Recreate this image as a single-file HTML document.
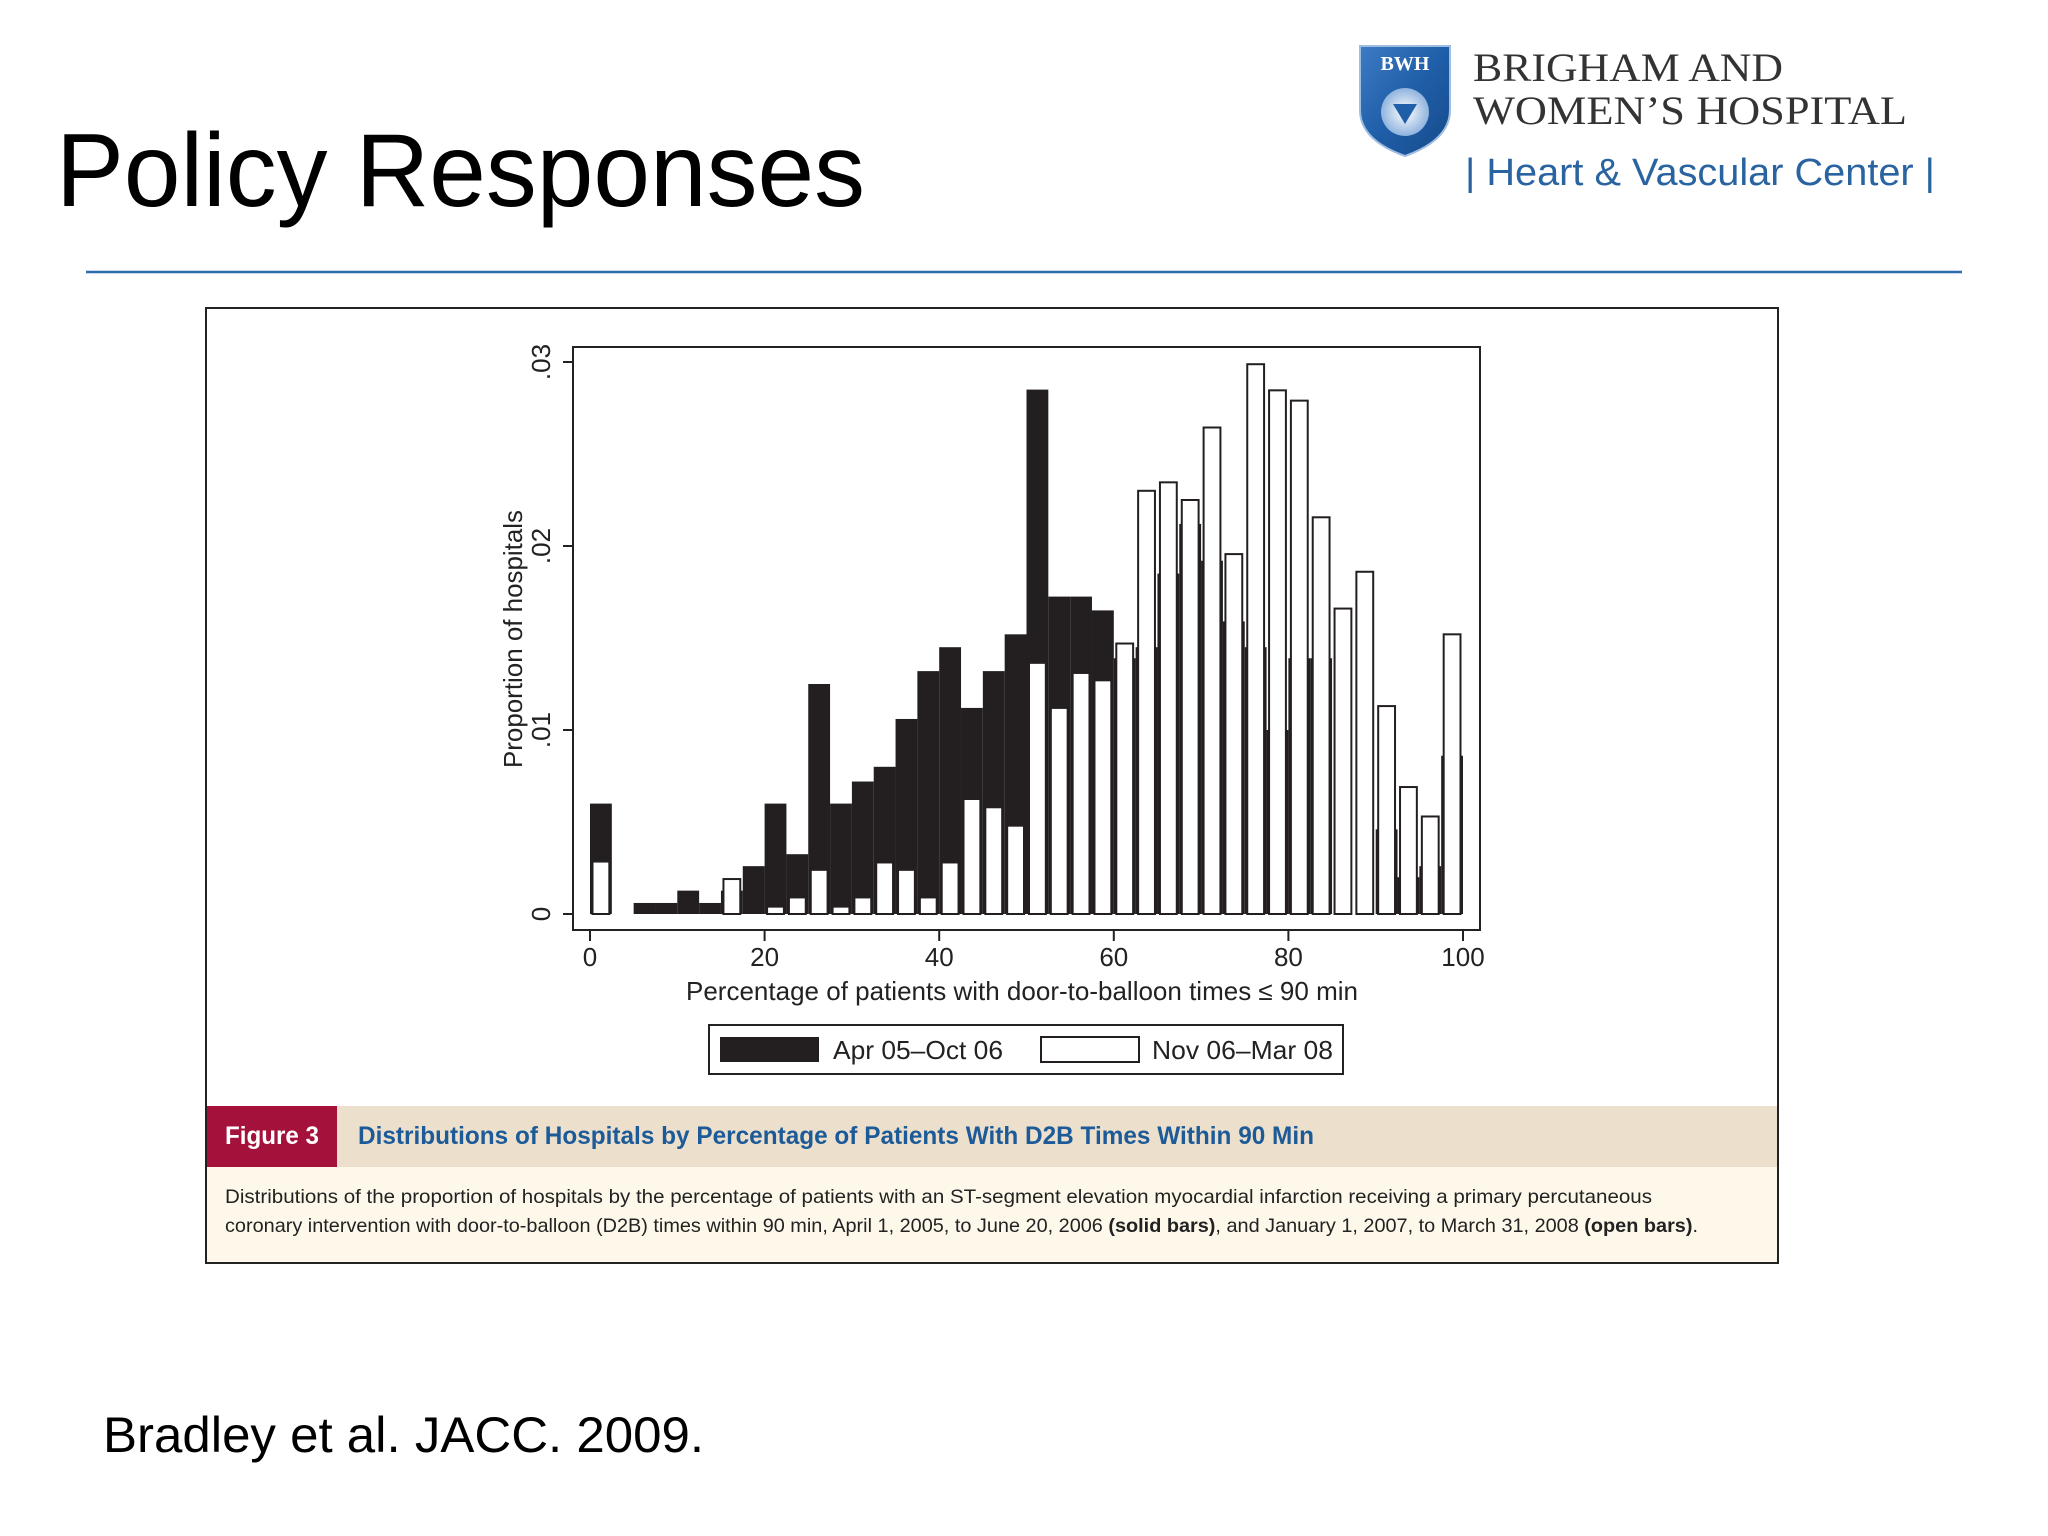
<!DOCTYPE html>
<html><head><meta charset="utf-8"><title>Policy Responses</title>
<style>html,body{margin:0;padding:0;background:#fff;}svg{display:block;}</style></head>
<body>
<svg id="slide" width="2048" height="1536" viewBox="0 0 2048 1536" xmlns="http://www.w3.org/2000/svg" font-family="Liberation Sans, Arial, sans-serif">
<defs>
<linearGradient id="sg" x1="0" y1="0" x2="1" y2="1"><stop offset="0" stop-color="#3d7cc4"/><stop offset="0.5" stop-color="#1f5ea8"/><stop offset="1" stop-color="#174a8a"/></linearGradient>
<radialGradient id="sw" cx="0.5" cy="0.5" r="0.5"><stop offset="0" stop-color="#ffffff"/><stop offset="1" stop-color="#8fb3de"/></radialGradient>
</defs>
<rect width="2048" height="1536" fill="#ffffff"/>
<text x="56" y="206" font-size="104" fill="#000" textLength="809" lengthAdjust="spacingAndGlyphs">Policy Responses</text>

<g>
<path d="M1360 46 L1450 46 L1450 110 Q1450 140 1405 156 Q1360 140 1360 110 Z" fill="url(#sg)" stroke="#9fbde0" stroke-width="2"/>
<text x="1405" y="70" font-family="Liberation Serif, serif" font-weight="bold" font-size="20" fill="#fff" text-anchor="middle">BWH</text>
<circle cx="1405" cy="112" r="24" fill="url(#sw)"/>
<path d="M1393 104 L1417 104 L1405 124 Z" fill="#1f5ea8"/>
<text x="1473" y="81" font-family="Liberation Serif, serif" font-size="40" fill="#333" textLength="310" lengthAdjust="spacingAndGlyphs">BRIGHAM AND</text>
<text x="1473" y="124" font-family="Liberation Serif, serif" font-size="40" fill="#333" textLength="434" lengthAdjust="spacingAndGlyphs">WOMEN’S HOSPITAL</text>
<text x="1465" y="185" font-size="38" fill="#2a64a0" textLength="470" lengthAdjust="spacingAndGlyphs">|  Heart &amp; Vascular Center  |</text>
</g>
<line x1="86" y1="272" x2="1962" y2="272" stroke="#2b6cb0" stroke-width="2.5"/>

<g>
<rect x="206" y="308" width="1572" height="955" fill="#fff" stroke="#222" stroke-width="2"/>
<rect x="207" y="1106" width="1570" height="61" fill="#ece0cd"/>
<rect x="207" y="1167" width="1570" height="95" fill="#fdf8ea"/>
<rect x="207" y="1106" width="130" height="61" fill="#a4123b"/>
<text x="225" y="1144" font-size="25" font-weight="bold" fill="#fff" textLength="94" lengthAdjust="spacingAndGlyphs">Figure 3</text>
<text x="358" y="1144" font-size="25" font-weight="bold" fill="#1d5a98" textLength="956" lengthAdjust="spacingAndGlyphs">Distributions of Hospitals by Percentage of Patients With D2B Times Within 90 Min</text>
<text x="225" y="1203" font-size="19.5" fill="#222" textLength="1427" lengthAdjust="spacingAndGlyphs">Distributions of the proportion of hospitals by the percentage of patients with an ST-segment elevation myocardial infarction receiving a primary percutaneous</text>
<text x="225" y="1232" font-size="19.5" fill="#222" textLength="1473" lengthAdjust="spacingAndGlyphs">coronary intervention with door-to-balloon (D2B) times within 90 min, April 1, 2005, to June 20, 2006 <tspan font-weight="bold">(solid bars)</tspan>, and January 1, 2007, to March 31, 2008 <tspan font-weight="bold">(open bars)</tspan>.</text>
</g>

<g id="chart"></g>

<text x="103" y="1452" font-size="50" fill="#000" textLength="601" lengthAdjust="spacingAndGlyphs">Bradley et al. JACC. 2009.</text>
</svg>
<script>
const binStarts = [0,2.5,5,7.5,10,12.5,15,17.5,20,22.5,25,27.5,30,32.5,35,37.5,40,42.5,45,47.5,50,52.5,55,57.5,60,62.5,65,67.5,70,72.5,75,77.5,80,82.5,85,87.5,90,92.5,95,97.5];
const solidValues = [0.006,0,0.0006,0.0006,0.00127,0.0006,0.00127,0.0026,0.006,0.00325,0.0125,0.006,0.0072,0.008,0.0106,0.0132,0.0145,0.0112,0.0132,0.0152,0.0285,0.01725,0.01725,0.0165,0.0139,0.0145,0.0185,0.0212,0.0192,0.0159,0.0145,0.0100,0.0139,0.0139,0,0,0.0046,0.002,0.0026,0.0086];
const openValues = [0.00285,0,0,0,0,0,0.0019,0,0.0004,0.0009,0.0024,0.0004,0.0009,0.0028,0.0024,0.0009,0.0028,0.00625,0.0058,0.0048,0.01365,0.0112,0.0131,0.0127,0.0147,0.0230,0.02346,0.0225,0.02644,0.01956,0.02988,0.02846,0.0279,0.02156,0.0166,0.0186,0.0113,0.0069,0.0053,0.0152];
const binWidth = 2.5;
const xTicks = [0,20,40,60,80,100];
const yTicks = [0,0.01,0.02,0.03];
const yTickLabels = ["0",".01",".02",".03"];

const NS = "http://www.w3.org/2000/svg";
const g = document.getElementById('chart');
const X0 = 590, XPU = 8.73, Y0 = 914, YPU = 18400;
const xs = v => X0 + v * XPU;
const ys = v => Y0 - v * YPU;
function mk(tag, attrs, parent) {
  const e = document.createElementNS(NS, tag);
  for (const k in attrs) e.setAttribute(k, attrs[k]);
  (parent || g).appendChild(e);
  return e;
}
// frame
const frame = mk('rect', {x:573, y:347, width:907, height:583, fill:'#fff', stroke:'#222', 'stroke-width':2});


// solid bars
binStarts.forEach((b, i) => {
  const v = solidValues[i];
  if (v <= 0) return;
  const r = mk('rect', {x:xs(b), y:ys(v), width:xs(b+binWidth)-xs(b), height:Y0-ys(v), fill:'#231f20'});
  
  
});
// open bars
binStarts.forEach((b, i) => {
  const v = openValues[i];
  if (v <= 0) return;
  const r = mk('rect', {x:xs(b)+2.5, y:ys(v), width:xs(b+binWidth)-xs(b)-5, height:Y0-ys(v), fill:'#fff', stroke:'#231f20', 'stroke-width':2});
  
  
});
// y ticks
yTicks.forEach((t, i) => {
  const l = mk('line', {x1:563, y1:ys(t), x2:573, y2:ys(t), stroke:'#222', 'stroke-width':2});
  
  
  const tx = mk('text', {x:0, y:0, 'font-size':26, fill:'#222', 'text-anchor':'middle', transform:`translate(550,${ys(t)}) rotate(-90)`});
  tx.textContent = yTickLabels[i];
  
  
});
// x ticks
xTicks.forEach(t => {
  const l = mk('line', {x1:xs(t), y1:930, x2:xs(t), y2:941, stroke:'#222', 'stroke-width':2});
  
  
  const tx = mk('text', {x:xs(t), y:966, 'font-size':26, fill:'#222', 'text-anchor':'middle'});
  tx.textContent = String(t);
  
  
});
const yt = mk('text', {x:0, y:0, 'font-size':26, fill:'#222', 'text-anchor':'middle', transform:'translate(522,639) rotate(-90)', textLength:258, lengthAdjust:'spacingAndGlyphs'});
yt.textContent = 'Proportion of hospitals';


const xt = mk('text', {x:686, y:1000, 'font-size':26, fill:'#222', textLength:672, lengthAdjust:'spacingAndGlyphs'});
xt.textContent = 'Percentage of patients with door-to-balloon times ≤ 90 min';


// legend
const lg = mk('g', {});


mk('rect', {x:709, y:1025, width:634, height:49, fill:'#fff', stroke:'#222', 'stroke-width':2}, lg);
const s1 = mk('rect', {x:720, y:1037, width:99, height:25, fill:'#231f20'}, lg);


const l1 = mk('text', {x:833, y:1059, 'font-size':26, fill:'#222', textLength:170, lengthAdjust:'spacingAndGlyphs'}, lg);
l1.textContent = 'Apr 05–Oct 06';


const s2 = mk('rect', {x:1041, y:1037, width:98, height:25, fill:'#fff', stroke:'#231f20', 'stroke-width':2}, lg);


const l2 = mk('text', {x:1152, y:1059, 'font-size':26, fill:'#222', textLength:181, lengthAdjust:'spacingAndGlyphs'}, lg);
l2.textContent = 'Nov 06–Mar 08';


</script>
</body></html>
